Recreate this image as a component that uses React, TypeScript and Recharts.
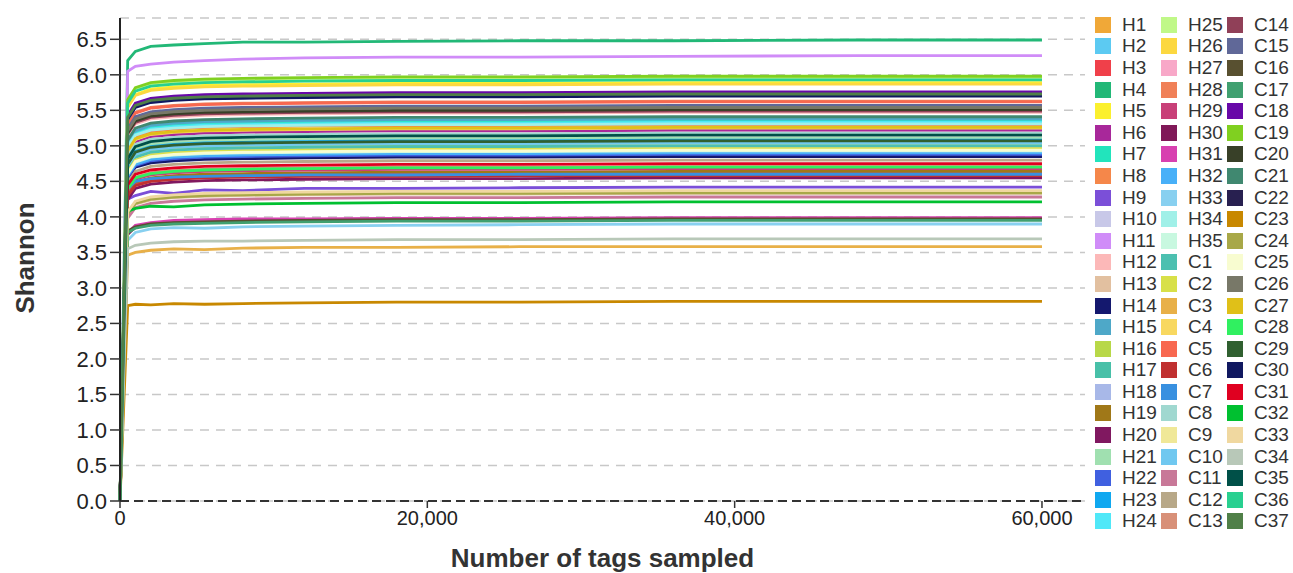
import { LineChart, Line, XAxis, YAxis, CartesianGrid } from 'recharts';

// tags sampled at each step
const TAGS = [0, 500, 1000, 2000, 3500, 5500, 8000, 12000, 18000, 26000, 36000, 48000, 60000];

const NAMES = [
  'H1', 'H2', 'H3', 'H4', 'H5', 'H6', 'H7', 'H8', 'H9', 'H10', 'H11', 'H12',
  'H13', 'H14', 'H15', 'H16', 'H17', 'H18', 'H19', 'H20', 'H21', 'H22', 'H23', 'H24',
  'H25', 'H26', 'H27', 'H28', 'H29', 'H30', 'H31', 'H32', 'H33', 'H34', 'H35', 'C1',
  'C2', 'C3', 'C4', 'C5', 'C6', 'C7', 'C8', 'C9', 'C10', 'C11', 'C12', 'C13',
  'C14', 'C15', 'C16', 'C17', 'C18', 'C19', 'C20', 'C21', 'C22', 'C23', 'C24', 'C25',
  'C26', 'C27', 'C28', 'C29', 'C30', 'C31', 'C32', 'C33', 'C34', 'C35', 'C36', 'C37',
];

const COLORS = [
  '#f0a838', '#5ccaf2', '#f0404a', '#22b877', '#fbf02e', '#a8289a', '#22e4bc', '#f5874a',
  '#7b4fd8', '#c8c8e8', '#d08cf8', '#fcb8b8', '#e2c0a0', '#14186e', '#4ea8c8', '#b8d848',
  '#48c0a8', '#a8b8e8', '#a07818', '#801860', '#a0e0b0', '#4060e0', '#10a8f0', '#50e8f8',
  '#c0f888', '#fcd840', '#f8a8c8', '#f08058', '#c84078', '#801858', '#d840b0', '#48b0f8',
  '#88d0f0', '#a0f0e8', '#c8f8e0', '#4cc0b0', '#d8e048', '#e8b048', '#f8d860', '#f86850',
  '#c03030', '#3890e0', '#a0d8d0', '#f0e898', '#70c8f0', '#c87898', '#b8a888', '#d89078',
  '#904058', '#606898', '#585030', '#40a070', '#6808a8', '#80d020', '#384028', '#408870',
  '#282050', '#c88800', '#a8a848', '#f8fcd0', '#787868', '#e0c018', '#30f060', '#306030',
  '#101860', '#e00020', '#00c030', '#f0d8a0', '#b8c8b8', '#005048', '#28d090', '#508048',
];

const H1 = [0, 4.95, 5.12, 5.2, 5.24, 5.26, 5.27, 5.28, 5.29, 5.29, 5.3, 5.3, 5.3];
const H2 = [0, 5.02, 5.2, 5.27, 5.3, 5.32, 5.33, 5.34, 5.35, 5.35, 5.36, 5.36, 5.36];
const H3 = [0, 4.3, 4.46, 4.53, 4.56, 4.58, 4.59, 4.6, 4.61, 4.61, 4.62, 4.62, 4.62];
const H4 = [0, 6.2, 6.33, 6.4, 6.42, 6.44, 6.46, 6.46, 6.47, 6.48, 6.48, 6.49, 6.49];
const H5 = [0, 5.55, 5.72, 5.8, 5.83, 5.85, 5.86, 5.87, 5.88, 5.88, 5.89, 5.89, 5.89];
const H6 = [0, 4.88, 5.05, 5.13, 5.16, 5.18, 5.19, 5.2, 5.21, 5.21, 5.22, 5.22, 5.22];
const H7 = [0, 5.0, 5.17, 5.25, 5.28, 5.3, 5.31, 5.32, 5.33, 5.33, 5.34, 5.34, 5.34];
const H8 = [0, 4.97, 5.13, 5.2, 5.24, 5.26, 5.27, 5.28, 5.28, 5.29, 5.29, 5.29, 5.29];
const H9 = [0, 4.25, 4.3, 4.36, 4.33, 4.38, 4.37, 4.4, 4.4, 4.41, 4.42, 4.42, 4.42];
const H10 = [0, 4.62, 4.79, 4.86, 4.89, 4.91, 4.92, 4.93, 4.94, 4.94, 4.95, 4.95, 4.95];
const H11 = [0, 6.05, 6.12, 6.15, 6.18, 6.2, 6.22, 6.24, 6.25, 6.25, 6.26, 6.27, 6.27];
const H12 = [0, 5.15, 5.31, 5.38, 5.41, 5.43, 5.44, 5.45, 5.46, 5.46, 5.47, 5.47, 5.47];
const H13 = [0, 4.02, 4.18, 4.24, 4.27, 4.29, 4.3, 4.31, 4.32, 4.32, 4.33, 4.33, 4.33];
const H14 = [0, 4.55, 4.7, 4.76, 4.79, 4.81, 4.82, 4.83, 4.84, 4.84, 4.85, 4.85, 4.85];
const H15 = [0, 5.05, 5.21, 5.29, 5.32, 5.34, 5.35, 5.36, 5.37, 5.37, 5.38, 5.38, 5.38];
const H16 = [0, 4.7, 4.86, 4.93, 4.96, 4.98, 4.99, 5.0, 5.01, 5.01, 5.02, 5.02, 5.02];
const H17 = [0, 4.66, 4.83, 4.9, 4.93, 4.95, 4.96, 4.97, 4.98, 4.98, 4.99, 4.99, 4.99];
const H18 = [0, 4.64, 4.81, 4.88, 4.92, 4.94, 4.95, 4.96, 4.97, 4.97, 4.98, 4.98, 4.98];
const H19 = [0, 4.33, 4.49, 4.55, 4.58, 4.6, 4.61, 4.62, 4.63, 4.63, 4.64, 4.64, 4.64];
const H20 = [0, 4.24, 4.4, 4.46, 4.49, 4.51, 4.52, 4.53, 4.54, 4.54, 4.55, 4.55, 4.55];
const H21 = [0, 4.78, 4.95, 5.02, 5.05, 5.07, 5.08, 5.09, 5.1, 5.1, 5.11, 5.11, 5.11];
const H22 = [0, 4.56, 4.72, 4.79, 4.82, 4.84, 4.85, 4.86, 4.87, 4.87, 4.88, 4.88, 4.88];
const H23 = [0, 4.75, 4.92, 4.99, 5.02, 5.04, 5.05, 5.06, 5.07, 5.07, 5.08, 5.08, 5.08];
const H24 = [0, 5.0, 5.16, 5.24, 5.27, 5.29, 5.3, 5.31, 5.32, 5.32, 5.33, 5.33, 5.33];
const H25 = [0, 5.62, 5.79, 5.86, 5.89, 5.91, 5.92, 5.93, 5.94, 5.94, 5.95, 5.95, 5.95];
const H26 = [0, 5.54, 5.71, 5.78, 5.81, 5.83, 5.84, 5.85, 5.86, 5.86, 5.87, 5.87, 5.87];
const H27 = [0, 4.85, 5.02, 5.09, 5.12, 5.14, 5.15, 5.16, 5.17, 5.17, 5.18, 5.18, 5.18];
const H28 = [0, 5.3, 5.47, 5.54, 5.57, 5.59, 5.6, 5.61, 5.62, 5.62, 5.63, 5.63, 5.63];
const H29 = [0, 4.37, 4.53, 4.59, 4.62, 4.64, 4.65, 4.66, 4.67, 4.67, 4.68, 4.68, 4.68];
const H30 = [0, 3.75, 3.86, 3.9, 3.93, 3.95, 3.95, 3.96, 3.97, 3.97, 3.98, 3.98, 3.98];
const H31 = [0, 3.78, 3.88, 3.92, 3.95, 3.96, 3.97, 3.97, 3.98, 3.98, 3.99, 3.99, 3.99];
const H32 = [0, 4.58, 4.74, 4.81, 4.84, 4.86, 4.87, 4.88, 4.89, 4.89, 4.9, 4.9, 4.9];
const H33 = [0, 3.67, 3.78, 3.83, 3.85, 3.84, 3.86, 3.87, 3.88, 3.89, 3.9, 3.9, 3.9];
const H34 = [0, 4.98, 5.15, 5.22, 5.25, 5.27, 5.28, 5.29, 5.3, 5.3, 5.31, 5.31, 5.31];
const H35 = [0, 4.6, 4.77, 4.84, 4.87, 4.89, 4.9, 4.91, 4.92, 4.92, 4.93, 4.93, 4.93];
const C1 = [0, 4.68, 4.84, 4.91, 4.94, 4.96, 4.97, 4.98, 4.99, 4.99, 5.0, 5.0, 5.0];
const C2 = [0, 4.63, 4.8, 4.87, 4.9, 4.92, 4.93, 4.94, 4.95, 4.95, 4.96, 4.96, 4.96];
const C3 = [0, 3.46, 3.5, 3.53, 3.55, 3.54, 3.56, 3.57, 3.57, 3.58, 3.58, 3.58, 3.58];
const C4 = [0, 4.92, 5.09, 5.16, 5.19, 5.21, 5.22, 5.23, 5.24, 5.24, 5.25, 5.25, 5.25];
const C5 = [0, 5.29, 5.46, 5.53, 5.56, 5.58, 5.59, 5.6, 5.61, 5.61, 5.62, 5.62, 5.62];
const C6 = [0, 4.3, 4.44, 4.5, 4.53, 4.55, 4.56, 4.57, 4.57, 4.58, 4.58, 4.58, 4.58];
const C7 = [0, 4.4, 4.5, 4.54, 4.56, 4.57, 4.58, 4.59, 4.59, 4.6, 4.6, 4.6, 4.6];
const C8 = [0, 4.86, 5.02, 5.09, 5.12, 5.14, 5.15, 5.16, 5.17, 5.17, 5.18, 5.18, 5.18];
const C9 = [0, 4.06, 4.21, 4.27, 4.3, 4.32, 4.33, 4.34, 4.35, 4.35, 4.36, 4.36, 4.36];
const C10 = [0, 4.72, 4.88, 4.95, 4.98, 5.0, 5.01, 5.02, 5.03, 5.03, 5.04, 5.04, 5.04];
const C11 = [0, 3.98, 4.13, 4.19, 4.22, 4.24, 4.25, 4.26, 4.27, 4.27, 4.28, 4.28, 4.28];
const C12 = [0, 4.48, 4.64, 4.71, 4.74, 4.76, 4.77, 4.78, 4.79, 4.79, 4.8, 4.8, 4.8];
const C13 = [0, 4.4, 4.56, 4.62, 4.65, 4.67, 4.68, 4.69, 4.7, 4.7, 4.71, 4.71, 4.71];
const C14 = [0, 5.17, 5.33, 5.4, 5.43, 5.45, 5.46, 5.47, 5.48, 5.48, 5.49, 5.49, 5.49];
const C15 = [0, 5.24, 5.41, 5.48, 5.51, 5.53, 5.54, 5.55, 5.56, 5.56, 5.57, 5.57, 5.57];
const C16 = [0, 3.8, 3.86, 3.9, 3.92, 3.93, 3.94, 3.95, 3.96, 3.96, 3.97, 3.97, 3.97];
const C17 = [0, 3.78, 3.84, 3.88, 3.9, 3.91, 3.92, 3.93, 3.94, 3.94, 3.95, 3.95, 3.95];
const C18 = [0, 5.43, 5.6, 5.67, 5.7, 5.72, 5.73, 5.74, 5.75, 5.75, 5.76, 5.76, 5.76];
const C19 = [0, 5.65, 5.82, 5.89, 5.92, 5.94, 5.95, 5.96, 5.97, 5.97, 5.98, 5.98, 5.98];
const C20 = [0, 5.18, 5.35, 5.42, 5.45, 5.47, 5.48, 5.49, 5.5, 5.5, 5.51, 5.51, 5.51];
const C21 = [0, 5.08, 5.25, 5.32, 5.35, 5.37, 5.38, 5.39, 5.4, 5.4, 5.41, 5.41, 5.41];
const C22 = [0, 5.39, 5.56, 5.63, 5.66, 5.68, 5.69, 5.7, 5.71, 5.71, 5.72, 5.72, 5.72];
const C23 = [0, 2.75, 2.77, 2.76, 2.78, 2.77, 2.78, 2.79, 2.8, 2.8, 2.81, 2.81, 2.81];
const C24 = [0, 4.04, 4.19, 4.25, 4.28, 4.3, 4.31, 4.32, 4.33, 4.33, 4.34, 4.34, 4.34];
const C25 = [0, 4.61, 4.78, 4.85, 4.88, 4.9, 4.91, 4.92, 4.93, 4.93, 4.94, 4.94, 4.94];
const C26 = [0, 5.21, 5.38, 5.45, 5.48, 5.5, 5.51, 5.52, 5.53, 5.53, 5.54, 5.54, 5.54];
const C27 = [0, 4.93, 5.1, 5.17, 5.2, 5.22, 5.23, 5.24, 5.25, 5.25, 5.26, 5.26, 5.26];
const C28 = [0, 4.39, 4.55, 4.61, 4.64, 4.66, 4.67, 4.68, 4.69, 4.69, 4.7, 4.7, 4.7];
const C29 = [0, 4.74, 4.91, 4.98, 5.01, 5.03, 5.04, 5.05, 5.06, 5.06, 5.07, 5.07, 5.07];
const C30 = [0, 5.37, 5.54, 5.61, 5.64, 5.66, 5.67, 5.68, 5.69, 5.69, 5.7, 5.7, 5.7];
const C31 = [0, 4.45, 4.6, 4.66, 4.69, 4.71, 4.72, 4.73, 4.74, 4.74, 4.75, 4.75, 4.75];
const C32 = [0, 4.08, 4.12, 4.15, 4.14, 4.17, 4.18, 4.19, 4.2, 4.2, 4.21, 4.21, 4.21];
const C33 = [0, 4.07, 4.22, 4.28, 4.31, 4.33, 4.34, 4.35, 4.36, 4.36, 4.37, 4.37, 4.37];
const C34 = [0, 3.55, 3.6, 3.63, 3.65, 3.66, 3.66, 3.67, 3.68, 3.68, 3.69, 3.69, 3.69];
const C35 = [0, 4.82, 4.99, 5.06, 5.09, 5.11, 5.12, 5.13, 5.14, 5.14, 5.15, 5.15, 5.15];
const C36 = [0, 5.6, 5.77, 5.84, 5.87, 5.89, 5.9, 5.91, 5.92, 5.92, 5.93, 5.93, 5.93];
const C37 = [0, 5.4, 5.57, 5.64, 5.67, 5.69, 5.7, 5.71, 5.72, 5.72, 5.73, 5.73, 5.73];

const SERIES = [
  H1, H2, H3, H4, H5, H6, H7, H8, H9, H10, H11, H12, H13, H14, H15, H16, H17, H18,
  H19, H20, H21, H22, H23, H24, H25, H26, H27, H28, H29, H30, H31, H32, H33, H34, H35,
  C1, C2, C3, C4, C5, C6, C7, C8, C9, C10, C11, C12, C13, C14, C15, C16, C17, C18,
  C19, C20, C21, C22, C23, C24, C25, C26, C27, C28, C29, C30, C31, C32, C33, C34, C35,
  C36, C37,
];

const Y_TICKS = [0, 0.5, 1, 1.5, 2, 2.5, 3, 3.5, 4, 4.5, 5, 5.5, 6, 6.5];
const X_TICKS = [0, 20000, 40000, 60000];

const FONT = "'Liberation Sans', Arial, sans-serif";

const rows = TAGS.map((t, i) => {
  const row: Record<string, number> = { tags: t };
  NAMES.forEach((n, k) => { row[n] = SERIES[k][i]; });
  return row;
});

function LegendGrid() {
  return (
    <div style={{
      position: 'absolute', left: 1095, top: 14, display: 'grid',
      gridTemplateRows: 'repeat(24, 21.6px)', gridAutoFlow: 'column',
      gridAutoColumns: '66px', fontFamily: FONT, fontSize: 19, color: '#333',
    }}>
      {NAMES.map((n, i) => (
        <div key={n} style={{ display: 'flex', alignItems: 'center', whiteSpace: 'nowrap' }}>
          <span style={{ width: 16, height: 16, background: COLORS[i], marginRight: 11, flex: 'none' }} />
          {n}
        </div>
      ))}
    </div>
  );
}

export default function App() {
  return (
    <div style={{ position: 'absolute', left: 0, top: 0, width: 1293, height: 573, background: '#fff' }}>
      <LineChart width={1293} height={573} data={rows} margin={{ top: 18, right: 208, left: 0, bottom: 0 }}>
        {NAMES.map((n, i) => (
          <Line key={n} type="linear" dataKey={n} stroke={COLORS[i]} strokeWidth={2.8}
            dot={false} isAnimationActive={false} />
        ))}
        <CartesianGrid vertical={false} stroke="#c8c8c8" strokeWidth={1.5} strokeDasharray="9 7" />
        <XAxis dataKey="tags" type="number" domain={[0, 62800]} ticks={X_TICKS} height={72}
          tickFormatter={(v: number) => v.toLocaleString('en-US')}
          axisLine={{ stroke: '#333', strokeWidth: 2, strokeDasharray: '9 5' }}
          tickLine={{ stroke: '#333', strokeWidth: 1.5 }} tickSize={7} tickMargin={3}
          tick={{ fill: '#222', fontSize: 20, fontFamily: FONT }}
          label={{ value: 'Number of tags sampled', position: 'insideBottom', offset: 6,
            fill: '#333', fontSize: 26, fontWeight: 'bold', fontFamily: FONT }} />
        <YAxis type="number" domain={[0, 6.8]} ticks={Y_TICKS} width={120}
          tickFormatter={(v: number) => v.toFixed(1)}
          axisLine={{ stroke: '#222', strokeWidth: 2 }}
          tickLine={{ stroke: '#333', strokeWidth: 1.5 }} tickSize={10} tickMargin={3}
          tick={{ fill: '#222', fontSize: 22, fontFamily: FONT }}
          label={{ content: () => (
            <text x={34} y={258} transform="rotate(-90 34 258)" textAnchor="middle"
              fill="#333" fontSize={26} fontWeight="bold" fontFamily={FONT}>Shannon</text>
          ) }} />
      </LineChart>
      <LegendGrid />
    </div>
  );
}
